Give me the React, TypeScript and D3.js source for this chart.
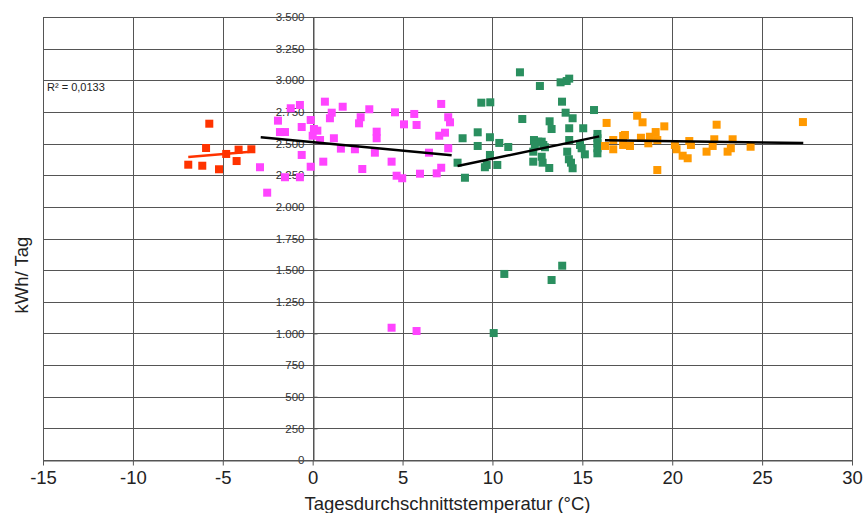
import React, { useEffect, useRef } from 'react';
import * as d3 from 'd3';

// Tagesdurchschnittstemperatur (°C) vs. Verbrauch (Wh/Tag)
const redX = [-6.92, -6.14, -5.93, -5.75, -5.21, -4.81, -4.23, -4.12, -3.41];
const redY = [2333, 2325, 2465, 2657, 2297, 2418, 2362, 2452, 2455];

const pinkX = [-2.93, -2.53, -1.93, -1.82, -1.54, -1.22, -0.71, -0.61, -0.61, -0.11, -1.54, -0.71, -0.11, 0.07, 0.26, 0.0, 0.41, 0.59, 0.68, 1.06, 0.96, 1.18, 1.57, 1.67, 2.35, 2.67, 2.58, 2.76, 3.15, 3.46, 3.56, 3.56, 4.39, 4.58, 4.67, 4.98, 5.08, 5.65, 5.78, 5.97, 6.47, 6.9, 7.15, 7.15, 7.04, 7.36, 7.54, 7.64, 7.54, 4.39, 5.78];
const pinkY = [2313, 2112, 2681, 2591, 2591, 2779, 2805, 2631, 2410, 2317, 2234, 2234, 2686, 2615, 2602, 2562, 2528, 2357, 2831, 2744, 2700, 2542, 2460, 2791, 2455, 2708, 2660, 2299, 2771, 2428, 2594, 2542, 2357, 2747, 2246, 2226, 2652, 2734, 2647, 2262, 2428, 2265, 2309, 2813, 2562, 2586, 2708, 2668, 2463, 1045, 1019];

const greenX = [11.53, 12.64, 13.79, 14.13, 14.27, 9.38, 9.88, 13.87, 15.65, 14.07, 14.46, 11.66, 13.18, 13.29, 14.27, 15.05, 9.18, 8.34, 9.86, 10.38, 10.88, 9.18, 12.31, 12.55, 12.74, 12.83, 12.36, 12.92, 14.27, 14.87, 14.96, 15.14, 15.84, 15.84, 15.84, 15.84, 15.84, 12.27, 12.74, 12.27, 12.79, 13.16, 14.16, 14.25, 14.37, 14.46, 9.86, 9.68, 9.58, 10.27, 8.06, 8.47, 10.66, 13.29, 13.88, 10.07];
const greenY = [3063, 2955, 2984, 2994, 3013, 2823, 2826, 2831, 2765, 2744, 2700, 2694, 2676, 2615, 2621, 2621, 2589, 2542, 2550, 2505, 2473, 2481, 2528, 2515, 2515, 2489, 2489, 2471, 2528, 2489, 2463, 2415, 2576, 2542, 2502, 2463, 2423, 2436, 2396, 2357, 2349, 2307, 2436, 2376, 2349, 2305, 2410, 2331, 2313, 2331, 2349, 2230, 1470, 1422, 1535, 1003];

const orangeX = [16.35, 16.26, 16.72, 16.72, 17.27, 17.37, 17.27, 17.65, 18.05, 18.35, 18.26, 18.67, 18.76, 19.08, 19.17, 19.17, 19.56, 20.15, 20.24, 20.58, 20.86, 20.95, 21.04, 21.91, 22.25, 22.34, 22.47, 23.08, 23.26, 23.36, 24.36, 27.27];
const orangeY = [2663, 2481, 2528, 2455, 2560, 2568, 2489, 2481, 2720, 2668, 2546, 2502, 2554, 2591, 2528, 2291, 2636, 2489, 2455, 2404, 2384, 2520, 2489, 2436, 2481, 2534, 2649, 2436, 2463, 2534, 2475, 2670];

// trendline endpoints [x, y]
const redTrend = [[-6.92, 2394], [-3.3, 2437]];
const pinkTrend = [[-2.89, 2550], [7.73, 2408]];
const greenTrend = [[8.06, 2323], [15.94, 2557]];
const orangeTrend = [[16.26, 2526], [27.29, 2505]];

const xTicks = [-15, -10, -5, 0, 5, 10, 15, 20, 25, 30];
const yTicks = [0, 250, 500, 750, 1000, 1250, 1500, 1750, 2000, 2250, 2500, 2750, 3000, 3250, 3500];

const rSquared = 'R² = 0,0133';
const xTitle = 'Tagesdurchschnittstemperatur (°C)';
const yTitle = 'kWh/ Tag';

const W = 864;
const H = 513;
const margin = { top: 17, right: 12, bottom: 53, left: 43 };
const font = '"Liberation Sans", Arial, sans-serif';

export default function App() {
  const svgRef = useRef<SVGSVGElement>(null);

  useEffect(() => {
    if (!svgRef.current) return;
    const svg = d3.select(svgRef.current);
    svg.selectAll('*').remove();

    const x = d3.scaleLinear().domain([-15, 30]).range([margin.left, W - margin.right]);
    const y = d3.scaleLinear().domain([0, 3500]).range([H - margin.bottom, margin.top]);
    const fmt = (v: number) => d3.format(',')(v).replace(/,/g, '.');

    // grid
    svg.append('g')
      .selectAll('line')
      .data(yTicks)
      .enter()
      .append('line')
      .attr('x1', x(-15)).attr('x2', x(30))
      .attr('y1', d => Math.round(y(d)) + 0.5).attr('y2', d => Math.round(y(d)) + 0.5)
      .attr('stroke', '#555').attr('stroke-width', 1);

    svg.append('g')
      .selectAll('line')
      .data(xTicks)
      .enter()
      .append('line')
      .attr('x1', d => Math.round(x(d)) + 0.5).attr('x2', d => Math.round(x(d)) + 0.5)
      .attr('y1', y(3500)).attr('y2', y(0))
      .attr('stroke', '#555').attr('stroke-width', 1);

    // x axis
    const xAxis = svg.append('g')
      .attr('transform', `translate(0, ${Math.round(y(0)) + 0.5})`)
      .call(d3.axisBottom(x).tickValues(xTicks).tickSize(5).tickSizeOuter(0).tickFormat(d => String(d)));
    xAxis.select('.domain').attr('stroke', '#555');
    xAxis.selectAll('.tick line').attr('stroke', '#555');
    xAxis.selectAll('.tick text')
      .attr('font-family', font).attr('font-size', 18.5).attr('fill', '#222').attr('y', 9).attr('dy', '0.8em');

    // y axis sits at x = 0
    const yAxis = svg.append('g')
      .attr('transform', `translate(${Math.round(x(0)) + 0.5}, 0)`)
      .call(d3.axisLeft(y).tickValues(yTicks).tickSize(4).tickSizeOuter(0).tickFormat(d => fmt(d as number)));
    yAxis.select('.domain').attr('stroke', '#555');
    yAxis.selectAll('.tick line').attr('stroke', '#555').attr('x2', 4);
    yAxis.selectAll('.tick text')
      .attr('font-family', font).attr('font-size', 11.5).attr('fill', '#333').attr('x', -9);

    // frame
    svg.append('rect')
      .attr('x', x(-15) + 0.5).attr('y', y(3500) + 0.5)
      .attr('width', x(30) - x(-15)).attr('height', y(0) - y(3500))
      .attr('fill', 'none').attr('stroke', '#555');

    const series = [
      { xs: redX, ys: redY, color: '#FF3300' },
      { xs: pinkX, ys: pinkY, color: '#FF44FF' },
      { xs: greenX, ys: greenY, color: '#2A8F5F' },
      { xs: orangeX, ys: orangeY, color: '#FF9900' },
    ];
    const size = 8;
    series.forEach(s => {
      svg.append('g')
        .selectAll('rect')
        .data(s.xs.map((v, i) => [v, s.ys[i]]))
        .enter()
        .append('rect')
        .attr('x', d => x(d[0]) - size / 2)
        .attr('y', d => y(d[1]) - size / 2)
        .attr('width', size).attr('height', size)
        .attr('fill', s.color);
    });

    const line = d3.line<number[]>().x(d => x(d[0])).y(d => y(d[1]));
    const trends = [
      { pts: redTrend, color: '#FF3300' },
      { pts: pinkTrend, color: '#000' },
      { pts: greenTrend, color: '#000' },
      { pts: orangeTrend, color: '#000' },
    ];
    trends.forEach(t => {
      svg.append('path').attr('d', line(t.pts)).attr('stroke', t.color)
        .attr('stroke-width', 2.5).attr('fill', 'none');
    });

    svg.append('text')
      .attr('x', 47).attr('y', 91)
      .attr('font-family', font).attr('font-size', 11).attr('fill', '#222')
      .text(rSquared);

    svg.append('text')
      .attr('x', (x(-15) + x(30)) / 2).attr('y', 510)
      .attr('text-anchor', 'middle')
      .attr('font-family', font).attr('font-size', 18.5).attr('fill', '#222')
      .text(xTitle);

    svg.append('text')
      .attr('transform', `translate(28, 275) rotate(-90)`)
      .attr('text-anchor', 'middle')
      .attr('font-family', font).attr('font-size', 18.5).attr('fill', '#222')
      .text(yTitle);
  }, []);

  return (
    <svg ref={svgRef} width={W} height={H}
      style={{ position: 'absolute', left: 0, top: 0, background: '#fff' }} />
  );
}
